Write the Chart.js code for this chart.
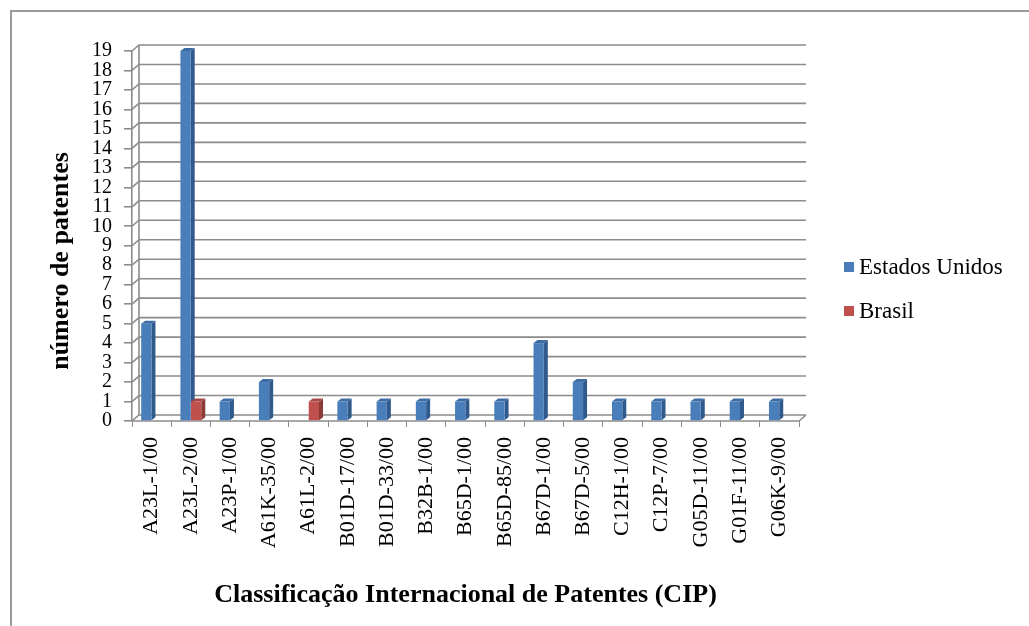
<!DOCTYPE html>
<html>
<head>
<meta charset="utf-8">
<script src="https://cdn.jsdelivr.net/npm/chart.js@4.4.1/dist/chart.umd.min.js"></script>
<style>
  body { margin: 0; background: #fff; overflow: hidden; }
  canvas { display: block; }
</style>
</head>
<body>
<canvas id="graficoCip" width="1029" height="626"></canvas>
<script>
const categorias = ['A23L-1/00', 'A23L-2/00', 'A23P-1/00', 'A61K-35/00', 'A61L-2/00', 'B01D-17/00', 'B01D-33/00',
  'B32B-1/00', 'B65D-1/00', 'B65D-85/00', 'B67D-1/00', 'B67D-5/00', 'C12H-1/00', 'C12P-7/00', 'G05D-11/00',
  'G01F-11/00', 'G06K-9/00'];
const estadosUnidos = [5, 19, 1, 2, 0, 1, 1, 1, 1, 1, 4, 2, 1, 1, 1, 1, 1];
const brasil = [0, 1, 0, 0, 1, 0, 0, 0, 0, 0, 0, 0, 0, 0, 0, 0, 0];
const yMax = 19;
const tituloY = 'número de patentes';

const serif = "'Liberation Serif', 'Times New Roman', serif";
const cinza = '#8c8c8c';

// moldura externa (so as bordas esquerda e superior aparecem)
const moldura = {
  id: 'moldura',
  beforeDraw(chart) {
    const c = chart.ctx;
    c.save();
    c.strokeStyle = '#9a9a9a';
    c.lineWidth = 2;
    c.beginPath();
    c.moveTo(11, chart.height);
    c.lineTo(11, 11);
    c.lineTo(chart.width, 11);
    c.stroke();
    c.restore();
  }
};

// paredes 3D, linhas de grade e faces laterais das barras
const efeito3d = {
  id: 'efeito3d',
  beforeDatasetsDraw(chart) {
    const c = chart.ctx;
    const a = chart.chartArea;
    const ys = chart.scales.y;
    const dx = 7, dy = 6;
    const x0 = a.left, x1 = a.right;
    c.save();
    c.strokeStyle = cinza;
    c.lineWidth = 1.6;
    ys.ticks.forEach(t => {
      const y = ys.getPixelForValue(t.value);
      c.beginPath();
      c.moveTo(x0, y);
      c.lineTo(x0 + dx, y - dy);
      c.lineTo(x1 + dx, y - dy);
      c.stroke();
    });
    const yb = ys.getPixelForValue(0), yt = ys.getPixelForValue(yMax);
    c.beginPath();
    c.moveTo(x0 + dx, yb - dy);
    c.lineTo(x0 + dx, yt - dy);
    c.moveTo(x0, yb);
    c.lineTo(x1, yb);
    c.lineTo(x1 + dx, yb - dy);
    c.stroke();

    const lados = [['#30598c', '#3d6ba4'], ['#8a3a37', '#a84744']];
    chart.data.datasets.forEach((ds, i) => {
      chart.getDatasetMeta(i).data.forEach((el, j) => {
        if (!ds.data[j]) return;
        const p = el.getProps(['x', 'y', 'base', 'width'], true);
        const l = p.x - p.width / 2, r = p.x + p.width / 2;
        const px = 4, py = 3;
        c.fillStyle = lados[i][0];
        c.beginPath();
        c.moveTo(r, p.y);
        c.lineTo(r + px, p.y - py);
        c.lineTo(r + px, p.base - py);
        c.lineTo(r, p.base);
        c.closePath();
        c.fill();
        c.fillStyle = lados[i][1];
        c.beginPath();
        c.moveTo(l, p.y);
        c.lineTo(l + px, p.y - py);
        c.lineTo(r + px, p.y - py);
        c.lineTo(r, p.y);
        c.closePath();
        c.fill();
      });
    });
    c.restore();
  }
};

// legenda a direita e titulo do eixo y
const legenda = {
  id: 'legenda',
  afterDraw(chart) {
    const c = chart.ctx;
    c.save();
    c.font = '23px ' + serif;
    c.textBaseline = 'middle';
    chart.data.datasets.forEach((ds, i) => {
      const y = 267 + i * 44;
      c.fillStyle = ds.backgroundColor;
      c.fillRect(844, y - 5, 10, 10);
      c.fillStyle = '#000';
      c.fillText(ds.label, 859, y + 1);
    });
    c.font = 'bold 26px ' + serif;
    c.textAlign = 'center';
    c.translate(61, 261);
    c.rotate(-Math.PI / 2);
    c.fillText(tituloY, 0, 0);
    c.restore();
  }
};

new Chart(document.getElementById('graficoCip').getContext('2d'), {
  type: 'bar',
  data: {
    labels: categorias,
    datasets: [
      { label: 'Estados Unidos', data: estadosUnidos, backgroundColor: '#4a7ebb' },
      { label: 'Brasil', data: brasil, backgroundColor: '#c0504d' }
    ]
  },
  options: {
    responsive: false,
    animation: false,
    categoryPercentage: 0.54,
    barPercentage: 0.97,
    layout: { padding: { top: 51, right: 1029 - 799, bottom: 0, left: 0 } },
    plugins: {
      legend: { display: false },
      tooltip: { enabled: false }
    },
    scales: {
      x: {
        grid: { drawOnChartArea: false, tickLength: 6, color: cinza },
        border: { display: false },
        ticks: { minRotation: 90, maxRotation: 90, autoSkip: false, padding: 10, color: '#000', font: { family: serif, size: 22 } },
        title: { display: true, text: 'Classificação Internacional de Patentes (CIP)', color: '#000',
          font: { family: serif, size: 26, weight: 'bold' }, padding: { top: 0, bottom: 15 } },
        afterFit(s) { s.height = 626 - 421; }
      },
      y: {
        min: 0,
        max: yMax,
        grid: { drawOnChartArea: false, tickLength: 8, color: cinza, lineWidth: 1.6 },
        border: { display: true, color: cinza, width: 1.6 },
        ticks: { stepSize: 1, autoSkip: false, padding: 12, color: '#000', font: { family: serif, size: 20 } },
        afterFit(s) { s.width = 132; }
      }
    }
  },
  plugins: [moldura, efeito3d, legenda]
});
</script>
</body>
</html>
